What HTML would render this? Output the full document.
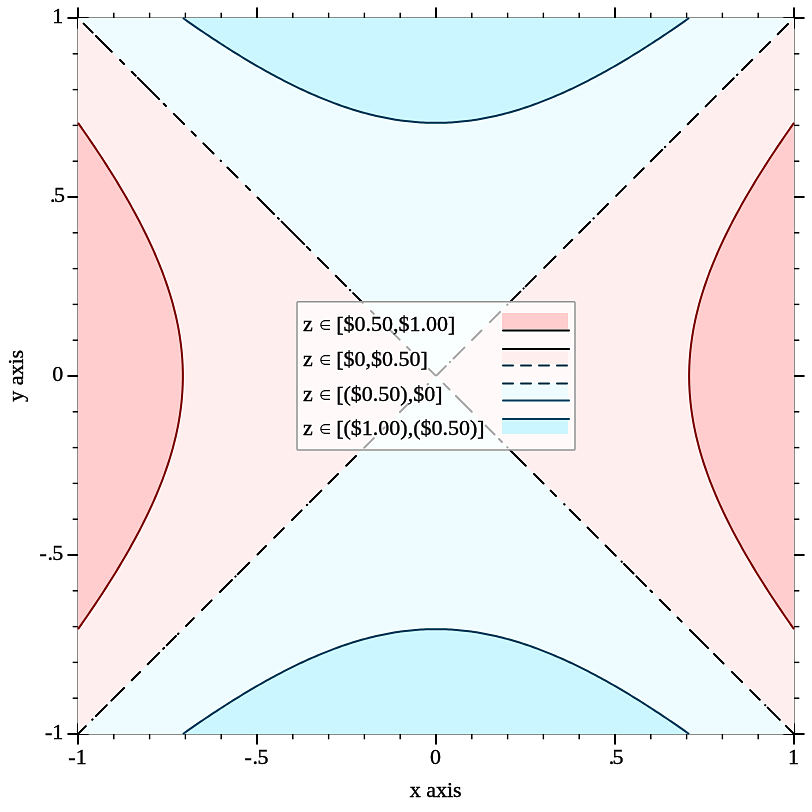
<!DOCTYPE html>
<html><head><meta charset="utf-8"><style>
html,body{margin:0;padding:0;background:#fff;width:812px;height:812px;overflow:hidden}
svg{display:block;will-change:transform}
text{font-family:"Liberation Serif",serif;font-size:22px;stroke:#000;stroke-width:0.35px;paint-order:stroke}
</style></head><body>
<svg width="812" height="812" viewBox="0 0 812 812">
<defs><filter id="sh" x="0" y="0" width="812" height="812" filterUnits="userSpaceOnUse" color-interpolation-filters="sRGB"><feGaussianBlur in="SourceGraphic" stdDeviation="1" result="b"/><feComposite in="SourceGraphic" in2="b" operator="arithmetic" k1="0" k2="1.3" k3="-0.3" k4="0"/></filter></defs>
<g filter="url(#sh)">
<rect width="812" height="812" fill="#fff"/>
<g stroke="#999999" stroke-width="1" fill="none">
<line x1="77.5" y1="17" x2="77.5" y2="735"/>
<line x1="794.5" y1="17" x2="794.5" y2="735"/>
<line x1="77" y1="17.5" x2="795" y2="17.5"/>
<line x1="77" y1="734.5" x2="795" y2="734.5"/>
</g>
<g stroke="#000"><line x1="78" y1="7.5" x2="78" y2="28.5" stroke-width="2"/><line x1="78" y1="723.5" x2="78" y2="744.5" stroke-width="2"/><line x1="67.5" y1="734" x2="88.5" y2="734" stroke-width="2"/><line x1="783.5" y1="734" x2="804.5" y2="734" stroke-width="2"/><line x1="113.8" y1="12.7" x2="113.8" y2="23.3" stroke-width="1.4"/><line x1="113.8" y1="728.7" x2="113.8" y2="739.3" stroke-width="1.4"/><line x1="72.7" y1="698.2" x2="83.3" y2="698.2" stroke-width="1.4"/><line x1="788.7" y1="698.2" x2="799.3" y2="698.2" stroke-width="1.4"/><line x1="149.6" y1="12.7" x2="149.6" y2="23.3" stroke-width="1.4"/><line x1="149.6" y1="728.7" x2="149.6" y2="739.3" stroke-width="1.4"/><line x1="72.7" y1="662.4" x2="83.3" y2="662.4" stroke-width="1.4"/><line x1="788.7" y1="662.4" x2="799.3" y2="662.4" stroke-width="1.4"/><line x1="185.4" y1="12.7" x2="185.4" y2="23.3" stroke-width="1.4"/><line x1="185.4" y1="728.7" x2="185.4" y2="739.3" stroke-width="1.4"/><line x1="72.7" y1="626.6" x2="83.3" y2="626.6" stroke-width="1.4"/><line x1="788.7" y1="626.6" x2="799.3" y2="626.6" stroke-width="1.4"/><line x1="221.2" y1="12.7" x2="221.2" y2="23.3" stroke-width="1.4"/><line x1="221.2" y1="728.7" x2="221.2" y2="739.3" stroke-width="1.4"/><line x1="72.7" y1="590.8" x2="83.3" y2="590.8" stroke-width="1.4"/><line x1="788.7" y1="590.8" x2="799.3" y2="590.8" stroke-width="1.4"/><line x1="257" y1="7.5" x2="257" y2="28.5" stroke-width="2"/><line x1="257" y1="723.5" x2="257" y2="744.5" stroke-width="2"/><line x1="67.5" y1="555" x2="88.5" y2="555" stroke-width="2"/><line x1="783.5" y1="555" x2="804.5" y2="555" stroke-width="2"/><line x1="292.8" y1="12.7" x2="292.8" y2="23.3" stroke-width="1.4"/><line x1="292.8" y1="728.7" x2="292.8" y2="739.3" stroke-width="1.4"/><line x1="72.7" y1="519.2" x2="83.3" y2="519.2" stroke-width="1.4"/><line x1="788.7" y1="519.2" x2="799.3" y2="519.2" stroke-width="1.4"/><line x1="328.6" y1="12.7" x2="328.6" y2="23.3" stroke-width="1.4"/><line x1="328.6" y1="728.7" x2="328.6" y2="739.3" stroke-width="1.4"/><line x1="72.7" y1="483.4" x2="83.3" y2="483.4" stroke-width="1.4"/><line x1="788.7" y1="483.4" x2="799.3" y2="483.4" stroke-width="1.4"/><line x1="364.4" y1="12.7" x2="364.4" y2="23.3" stroke-width="1.4"/><line x1="364.4" y1="728.7" x2="364.4" y2="739.3" stroke-width="1.4"/><line x1="72.7" y1="447.6" x2="83.3" y2="447.6" stroke-width="1.4"/><line x1="788.7" y1="447.6" x2="799.3" y2="447.6" stroke-width="1.4"/><line x1="400.2" y1="12.7" x2="400.2" y2="23.3" stroke-width="1.4"/><line x1="400.2" y1="728.7" x2="400.2" y2="739.3" stroke-width="1.4"/><line x1="72.7" y1="411.8" x2="83.3" y2="411.8" stroke-width="1.4"/><line x1="788.7" y1="411.8" x2="799.3" y2="411.8" stroke-width="1.4"/><line x1="436" y1="7.5" x2="436" y2="28.5" stroke-width="2"/><line x1="436" y1="723.5" x2="436" y2="744.5" stroke-width="2"/><line x1="67.5" y1="376" x2="88.5" y2="376" stroke-width="2"/><line x1="783.5" y1="376" x2="804.5" y2="376" stroke-width="2"/><line x1="471.8" y1="12.7" x2="471.8" y2="23.3" stroke-width="1.4"/><line x1="471.8" y1="728.7" x2="471.8" y2="739.3" stroke-width="1.4"/><line x1="72.7" y1="340.2" x2="83.3" y2="340.2" stroke-width="1.4"/><line x1="788.7" y1="340.2" x2="799.3" y2="340.2" stroke-width="1.4"/><line x1="507.6" y1="12.7" x2="507.6" y2="23.3" stroke-width="1.4"/><line x1="507.6" y1="728.7" x2="507.6" y2="739.3" stroke-width="1.4"/><line x1="72.7" y1="304.4" x2="83.3" y2="304.4" stroke-width="1.4"/><line x1="788.7" y1="304.4" x2="799.3" y2="304.4" stroke-width="1.4"/><line x1="543.4" y1="12.7" x2="543.4" y2="23.3" stroke-width="1.4"/><line x1="543.4" y1="728.7" x2="543.4" y2="739.3" stroke-width="1.4"/><line x1="72.7" y1="268.6" x2="83.3" y2="268.6" stroke-width="1.4"/><line x1="788.7" y1="268.6" x2="799.3" y2="268.6" stroke-width="1.4"/><line x1="579.2" y1="12.7" x2="579.2" y2="23.3" stroke-width="1.4"/><line x1="579.2" y1="728.7" x2="579.2" y2="739.3" stroke-width="1.4"/><line x1="72.7" y1="232.8" x2="83.3" y2="232.8" stroke-width="1.4"/><line x1="788.7" y1="232.8" x2="799.3" y2="232.8" stroke-width="1.4"/><line x1="615" y1="7.5" x2="615" y2="28.5" stroke-width="2"/><line x1="615" y1="723.5" x2="615" y2="744.5" stroke-width="2"/><line x1="67.5" y1="197" x2="88.5" y2="197" stroke-width="2"/><line x1="783.5" y1="197" x2="804.5" y2="197" stroke-width="2"/><line x1="650.8" y1="12.7" x2="650.8" y2="23.3" stroke-width="1.4"/><line x1="650.8" y1="728.7" x2="650.8" y2="739.3" stroke-width="1.4"/><line x1="72.7" y1="161.2" x2="83.3" y2="161.2" stroke-width="1.4"/><line x1="788.7" y1="161.2" x2="799.3" y2="161.2" stroke-width="1.4"/><line x1="686.6" y1="12.7" x2="686.6" y2="23.3" stroke-width="1.4"/><line x1="686.6" y1="728.7" x2="686.6" y2="739.3" stroke-width="1.4"/><line x1="72.7" y1="125.4" x2="83.3" y2="125.4" stroke-width="1.4"/><line x1="788.7" y1="125.4" x2="799.3" y2="125.4" stroke-width="1.4"/><line x1="722.4" y1="12.7" x2="722.4" y2="23.3" stroke-width="1.4"/><line x1="722.4" y1="728.7" x2="722.4" y2="739.3" stroke-width="1.4"/><line x1="72.7" y1="89.6" x2="83.3" y2="89.6" stroke-width="1.4"/><line x1="788.7" y1="89.6" x2="799.3" y2="89.6" stroke-width="1.4"/><line x1="758.2" y1="12.7" x2="758.2" y2="23.3" stroke-width="1.4"/><line x1="758.2" y1="728.7" x2="758.2" y2="739.3" stroke-width="1.4"/><line x1="72.7" y1="53.8" x2="83.3" y2="53.8" stroke-width="1.4"/><line x1="788.7" y1="53.8" x2="799.3" y2="53.8" stroke-width="1.4"/><line x1="794" y1="7.5" x2="794" y2="28.5" stroke-width="2"/><line x1="794" y1="723.5" x2="794" y2="744.5" stroke-width="2"/><line x1="67.5" y1="18" x2="88.5" y2="18" stroke-width="2"/><line x1="783.5" y1="18" x2="804.5" y2="18" stroke-width="2"/></g>
<g shape-rendering="auto">
<path d="M794,629.14 L792.21,626.61 L790.44,624.08 L788.67,621.55 L786.91,619.02 L785.16,616.49 L783.43,613.96 L781.7,611.42 L779.98,608.89 L778.27,606.36 L776.57,603.83 L774.88,601.3 L773.2,598.77 L771.54,596.24 L769.88,593.7 L768.24,591.17 L766.6,588.64 L764.98,586.11 L763.37,583.58 L761.77,581.05 L760.18,578.52 L758.61,575.98 L757.04,573.45 L755.49,570.92 L753.96,568.39 L752.43,565.86 L750.92,563.33 L749.42,560.8 L747.93,558.26 L746.46,555.73 L745,553.2 L743.56,550.67 L742.13,548.14 L740.71,545.61 L739.31,543.08 L737.92,540.54 L736.55,538.01 L735.19,535.48 L733.85,532.95 L732.52,530.42 L731.21,527.89 L729.92,525.36 L728.64,522.82 L727.38,520.29 L726.13,517.76 L724.91,515.23 L723.69,512.7 L722.5,510.17 L721.32,507.63 L720.16,505.1 L719.02,502.57 L717.9,500.04 L716.8,497.51 L715.71,494.98 L714.64,492.45 L713.59,489.91 L712.57,487.38 L711.56,484.85 L710.57,482.32 L709.59,479.79 L708.64,477.26 L707.71,474.73 L706.81,472.19 L705.92,469.66 L705.05,467.13 L704.2,464.6 L703.38,462.07 L702.57,459.54 L701.79,457.01 L701.03,454.47 L700.29,451.94 L699.57,449.41 L698.88,446.88 L698.21,444.35 L697.56,441.82 L696.94,439.29 L696.33,436.75 L695.75,434.22 L695.2,431.69 L694.67,429.16 L694.16,426.63 L693.67,424.1 L693.21,421.57 L692.78,419.03 L692.36,416.5 L691.98,413.97 L691.61,411.44 L691.27,408.91 L690.96,406.38 L690.67,403.85 L690.41,401.31 L690.17,398.78 L689.95,396.25 L689.76,393.72 L689.6,391.19 L689.46,388.66 L689.35,386.13 L689.26,383.59 L689.19,381.06 L689.16,378.53 L689.14,376 L689.16,373.47 L689.19,370.94 L689.26,368.41 L689.35,365.87 L689.46,363.34 L689.6,360.81 L689.76,358.28 L689.95,355.75 L690.17,353.22 L690.41,350.69 L690.67,348.15 L690.96,345.62 L691.27,343.09 L691.61,340.56 L691.98,338.03 L692.36,335.5 L692.78,332.97 L693.21,330.43 L693.67,327.9 L694.16,325.37 L694.67,322.84 L695.2,320.31 L695.75,317.78 L696.33,315.25 L696.94,312.71 L697.56,310.18 L698.21,307.65 L698.88,305.12 L699.57,302.59 L700.29,300.06 L701.03,297.53 L701.79,294.99 L702.57,292.46 L703.38,289.93 L704.2,287.4 L705.05,284.87 L705.92,282.34 L706.81,279.81 L707.71,277.27 L708.64,274.74 L709.59,272.21 L710.57,269.68 L711.56,267.15 L712.57,264.62 L713.59,262.09 L714.64,259.55 L715.71,257.02 L716.8,254.49 L717.9,251.96 L719.02,249.43 L720.16,246.9 L721.32,244.37 L722.5,241.83 L723.69,239.3 L724.91,236.77 L726.13,234.24 L727.38,231.71 L728.64,229.18 L729.92,226.64 L731.21,224.11 L732.52,221.58 L733.85,219.05 L735.19,216.52 L736.55,213.99 L737.92,211.46 L739.31,208.92 L740.71,206.39 L742.13,203.86 L743.56,201.33 L745,198.8 L746.46,196.27 L747.93,193.74 L749.42,191.2 L750.92,188.67 L752.43,186.14 L753.96,183.61 L755.49,181.08 L757.04,178.55 L758.61,176.02 L760.18,173.48 L761.77,170.95 L763.37,168.42 L764.98,165.89 L766.6,163.36 L768.24,160.83 L769.88,158.3 L771.54,155.76 L773.2,153.23 L774.88,150.7 L776.57,148.17 L778.27,145.64 L779.98,143.11 L781.7,140.58 L783.43,138.04 L785.16,135.51 L786.91,132.98 L788.67,130.45 L790.44,127.92 L792.21,125.39 L794,122.86 L794,122.86 L794,629.14Z" fill="#ffcdcd"/>
<path d="M78,629.14 L79.79,626.61 L81.56,624.08 L83.33,621.55 L85.09,619.02 L86.84,616.49 L88.57,613.96 L90.3,611.42 L92.02,608.89 L93.73,606.36 L95.43,603.83 L97.12,601.3 L98.8,598.77 L100.46,596.24 L102.12,593.7 L103.76,591.17 L105.4,588.64 L107.02,586.11 L108.63,583.58 L110.23,581.05 L111.82,578.52 L113.39,575.98 L114.96,573.45 L116.51,570.92 L118.04,568.39 L119.57,565.86 L121.08,563.33 L122.58,560.8 L124.07,558.26 L125.54,555.73 L127,553.2 L128.44,550.67 L129.87,548.14 L131.29,545.61 L132.69,543.08 L134.08,540.54 L135.45,538.01 L136.81,535.48 L138.15,532.95 L139.48,530.42 L140.79,527.89 L142.08,525.36 L143.36,522.82 L144.62,520.29 L145.87,517.76 L147.09,515.23 L148.31,512.7 L149.5,510.17 L150.68,507.63 L151.84,505.1 L152.98,502.57 L154.1,500.04 L155.2,497.51 L156.29,494.98 L157.36,492.45 L158.41,489.91 L159.43,487.38 L160.44,484.85 L161.43,482.32 L162.41,479.79 L163.36,477.26 L164.29,474.73 L165.19,472.19 L166.08,469.66 L166.95,467.13 L167.8,464.6 L168.62,462.07 L169.43,459.54 L170.21,457.01 L170.97,454.47 L171.71,451.94 L172.43,449.41 L173.12,446.88 L173.79,444.35 L174.44,441.82 L175.06,439.29 L175.67,436.75 L176.25,434.22 L176.8,431.69 L177.33,429.16 L177.84,426.63 L178.33,424.1 L178.79,421.57 L179.22,419.03 L179.64,416.5 L180.02,413.97 L180.39,411.44 L180.73,408.91 L181.04,406.38 L181.33,403.85 L181.59,401.31 L181.83,398.78 L182.05,396.25 L182.24,393.72 L182.4,391.19 L182.54,388.66 L182.65,386.13 L182.74,383.59 L182.81,381.06 L182.84,378.53 L182.86,376 L182.84,373.47 L182.81,370.94 L182.74,368.41 L182.65,365.87 L182.54,363.34 L182.4,360.81 L182.24,358.28 L182.05,355.75 L181.83,353.22 L181.59,350.69 L181.33,348.15 L181.04,345.62 L180.73,343.09 L180.39,340.56 L180.02,338.03 L179.64,335.5 L179.22,332.97 L178.79,330.43 L178.33,327.9 L177.84,325.37 L177.33,322.84 L176.8,320.31 L176.25,317.78 L175.67,315.25 L175.06,312.71 L174.44,310.18 L173.79,307.65 L173.12,305.12 L172.43,302.59 L171.71,300.06 L170.97,297.53 L170.21,294.99 L169.43,292.46 L168.62,289.93 L167.8,287.4 L166.95,284.87 L166.08,282.34 L165.19,279.81 L164.29,277.27 L163.36,274.74 L162.41,272.21 L161.43,269.68 L160.44,267.15 L159.43,264.62 L158.41,262.09 L157.36,259.55 L156.29,257.02 L155.2,254.49 L154.1,251.96 L152.98,249.43 L151.84,246.9 L150.68,244.37 L149.5,241.83 L148.31,239.3 L147.09,236.77 L145.87,234.24 L144.62,231.71 L143.36,229.18 L142.08,226.64 L140.79,224.11 L139.48,221.58 L138.15,219.05 L136.81,216.52 L135.45,213.99 L134.08,211.46 L132.69,208.92 L131.29,206.39 L129.87,203.86 L128.44,201.33 L127,198.8 L125.54,196.27 L124.07,193.74 L122.58,191.2 L121.08,188.67 L119.57,186.14 L118.04,183.61 L116.51,181.08 L114.96,178.55 L113.39,176.02 L111.82,173.48 L110.23,170.95 L108.63,168.42 L107.02,165.89 L105.4,163.36 L103.76,160.83 L102.12,158.3 L100.46,155.76 L98.8,153.23 L97.12,150.7 L95.43,148.17 L93.73,145.64 L92.02,143.11 L90.3,140.58 L88.57,138.04 L86.84,135.51 L85.09,132.98 L83.33,130.45 L81.56,127.92 L79.79,125.39 L78,122.86 L78,122.86 L78,629.14Z" fill="#ffcdcd"/>
<path d="M182.86,18 L185.39,19.79 L187.92,21.56 L190.45,23.33 L192.98,25.09 L195.51,26.84 L198.04,28.57 L200.58,30.3 L203.11,32.02 L205.64,33.73 L208.17,35.43 L210.7,37.12 L213.23,38.8 L215.76,40.46 L218.3,42.12 L220.83,43.76 L223.36,45.4 L225.89,47.02 L228.42,48.63 L230.95,50.23 L233.48,51.82 L236.02,53.39 L238.55,54.96 L241.08,56.51 L243.61,58.04 L246.14,59.57 L248.67,61.08 L251.2,62.58 L253.74,64.07 L256.27,65.54 L258.8,67 L261.33,68.44 L263.86,69.87 L266.39,71.29 L268.92,72.69 L271.46,74.08 L273.99,75.45 L276.52,76.81 L279.05,78.15 L281.58,79.48 L284.11,80.79 L286.64,82.08 L289.18,83.36 L291.71,84.62 L294.24,85.87 L296.77,87.09 L299.3,88.31 L301.83,89.5 L304.37,90.68 L306.9,91.84 L309.43,92.98 L311.96,94.1 L314.49,95.2 L317.02,96.29 L319.55,97.36 L322.09,98.41 L324.62,99.43 L327.15,100.44 L329.68,101.43 L332.21,102.41 L334.74,103.36 L337.27,104.29 L339.81,105.19 L342.34,106.08 L344.87,106.95 L347.4,107.8 L349.93,108.62 L352.46,109.43 L354.99,110.21 L357.53,110.97 L360.06,111.71 L362.59,112.43 L365.12,113.12 L367.65,113.79 L370.18,114.44 L372.71,115.06 L375.25,115.67 L377.78,116.25 L380.31,116.8 L382.84,117.33 L385.37,117.84 L387.9,118.33 L390.43,118.79 L392.97,119.22 L395.5,119.64 L398.03,120.02 L400.56,120.39 L403.09,120.73 L405.62,121.04 L408.15,121.33 L410.69,121.59 L413.22,121.83 L415.75,122.05 L418.28,122.24 L420.81,122.4 L423.34,122.54 L425.87,122.65 L428.41,122.74 L430.94,122.81 L433.47,122.84 L436,122.86 L438.53,122.84 L441.06,122.81 L443.59,122.74 L446.13,122.65 L448.66,122.54 L451.19,122.4 L453.72,122.24 L456.25,122.05 L458.78,121.83 L461.31,121.59 L463.85,121.33 L466.38,121.04 L468.91,120.73 L471.44,120.39 L473.97,120.02 L476.5,119.64 L479.03,119.22 L481.57,118.79 L484.1,118.33 L486.63,117.84 L489.16,117.33 L491.69,116.8 L494.22,116.25 L496.75,115.67 L499.29,115.06 L501.82,114.44 L504.35,113.79 L506.88,113.12 L509.41,112.43 L511.94,111.71 L514.47,110.97 L517.01,110.21 L519.54,109.43 L522.07,108.62 L524.6,107.8 L527.13,106.95 L529.66,106.08 L532.19,105.19 L534.73,104.29 L537.26,103.36 L539.79,102.41 L542.32,101.43 L544.85,100.44 L547.38,99.43 L549.91,98.41 L552.45,97.36 L554.98,96.29 L557.51,95.2 L560.04,94.1 L562.57,92.98 L565.1,91.84 L567.63,90.68 L570.17,89.5 L572.7,88.31 L575.23,87.09 L577.76,85.87 L580.29,84.62 L582.82,83.36 L585.36,82.08 L587.89,80.79 L590.42,79.48 L592.95,78.15 L595.48,76.81 L598.01,75.45 L600.54,74.08 L603.08,72.69 L605.61,71.29 L608.14,69.87 L610.67,68.44 L613.2,67 L615.73,65.54 L618.26,64.07 L620.8,62.58 L623.33,61.08 L625.86,59.57 L628.39,58.04 L630.92,56.51 L633.45,54.96 L635.98,53.39 L638.52,51.82 L641.05,50.23 L643.58,48.63 L646.11,47.02 L648.64,45.4 L651.17,43.76 L653.7,42.12 L656.24,40.46 L658.77,38.8 L661.3,37.12 L663.83,35.43 L666.36,33.73 L668.89,32.02 L671.42,30.3 L673.96,28.57 L676.49,26.84 L679.02,25.09 L681.55,23.33 L684.08,21.56 L686.61,19.79 L689.14,18 L689.14,18 L182.86,18Z" fill="#ccf6ff"/>
<path d="M182.86,734 L185.39,732.21 L187.92,730.44 L190.45,728.67 L192.98,726.91 L195.51,725.16 L198.04,723.43 L200.58,721.7 L203.11,719.98 L205.64,718.27 L208.17,716.57 L210.7,714.88 L213.23,713.2 L215.76,711.54 L218.3,709.88 L220.83,708.24 L223.36,706.6 L225.89,704.98 L228.42,703.37 L230.95,701.77 L233.48,700.18 L236.02,698.61 L238.55,697.04 L241.08,695.49 L243.61,693.96 L246.14,692.43 L248.67,690.92 L251.2,689.42 L253.74,687.93 L256.27,686.46 L258.8,685 L261.33,683.56 L263.86,682.13 L266.39,680.71 L268.92,679.31 L271.46,677.92 L273.99,676.55 L276.52,675.19 L279.05,673.85 L281.58,672.52 L284.11,671.21 L286.64,669.92 L289.18,668.64 L291.71,667.38 L294.24,666.13 L296.77,664.91 L299.3,663.69 L301.83,662.5 L304.37,661.32 L306.9,660.16 L309.43,659.02 L311.96,657.9 L314.49,656.8 L317.02,655.71 L319.55,654.64 L322.09,653.59 L324.62,652.57 L327.15,651.56 L329.68,650.57 L332.21,649.59 L334.74,648.64 L337.27,647.71 L339.81,646.81 L342.34,645.92 L344.87,645.05 L347.4,644.2 L349.93,643.38 L352.46,642.57 L354.99,641.79 L357.53,641.03 L360.06,640.29 L362.59,639.57 L365.12,638.88 L367.65,638.21 L370.18,637.56 L372.71,636.94 L375.25,636.33 L377.78,635.75 L380.31,635.2 L382.84,634.67 L385.37,634.16 L387.9,633.67 L390.43,633.21 L392.97,632.78 L395.5,632.36 L398.03,631.98 L400.56,631.61 L403.09,631.27 L405.62,630.96 L408.15,630.67 L410.69,630.41 L413.22,630.17 L415.75,629.95 L418.28,629.76 L420.81,629.6 L423.34,629.46 L425.87,629.35 L428.41,629.26 L430.94,629.19 L433.47,629.16 L436,629.14 L438.53,629.16 L441.06,629.19 L443.59,629.26 L446.13,629.35 L448.66,629.46 L451.19,629.6 L453.72,629.76 L456.25,629.95 L458.78,630.17 L461.31,630.41 L463.85,630.67 L466.38,630.96 L468.91,631.27 L471.44,631.61 L473.97,631.98 L476.5,632.36 L479.03,632.78 L481.57,633.21 L484.1,633.67 L486.63,634.16 L489.16,634.67 L491.69,635.2 L494.22,635.75 L496.75,636.33 L499.29,636.94 L501.82,637.56 L504.35,638.21 L506.88,638.88 L509.41,639.57 L511.94,640.29 L514.47,641.03 L517.01,641.79 L519.54,642.57 L522.07,643.38 L524.6,644.2 L527.13,645.05 L529.66,645.92 L532.19,646.81 L534.73,647.71 L537.26,648.64 L539.79,649.59 L542.32,650.57 L544.85,651.56 L547.38,652.57 L549.91,653.59 L552.45,654.64 L554.98,655.71 L557.51,656.8 L560.04,657.9 L562.57,659.02 L565.1,660.16 L567.63,661.32 L570.17,662.5 L572.7,663.69 L575.23,664.91 L577.76,666.13 L580.29,667.38 L582.82,668.64 L585.36,669.92 L587.89,671.21 L590.42,672.52 L592.95,673.85 L595.48,675.19 L598.01,676.55 L600.54,677.92 L603.08,679.31 L605.61,680.71 L608.14,682.13 L610.67,683.56 L613.2,685 L615.73,686.46 L618.26,687.93 L620.8,689.42 L623.33,690.92 L625.86,692.43 L628.39,693.96 L630.92,695.49 L633.45,697.04 L635.98,698.61 L638.52,700.18 L641.05,701.77 L643.58,703.37 L646.11,704.98 L648.64,706.6 L651.17,708.24 L653.7,709.88 L656.24,711.54 L658.77,713.2 L661.3,714.88 L663.83,716.57 L666.36,718.27 L668.89,719.98 L671.42,721.7 L673.96,723.43 L676.49,725.16 L679.02,726.91 L681.55,728.67 L684.08,730.44 L686.61,732.21 L689.14,734 L689.14,734 L182.86,734Z" fill="#ccf6ff"/>
<path d="M436,376 L794,18 L794,122.86 L794,122.86 L792.21,125.39 L790.44,127.92 L788.67,130.45 L786.91,132.98 L785.16,135.51 L783.43,138.04 L781.7,140.58 L779.98,143.11 L778.27,145.64 L776.57,148.17 L774.88,150.7 L773.2,153.23 L771.54,155.76 L769.88,158.3 L768.24,160.83 L766.6,163.36 L764.98,165.89 L763.37,168.42 L761.77,170.95 L760.18,173.48 L758.61,176.02 L757.04,178.55 L755.49,181.08 L753.96,183.61 L752.43,186.14 L750.92,188.67 L749.42,191.2 L747.93,193.74 L746.46,196.27 L745,198.8 L743.56,201.33 L742.13,203.86 L740.71,206.39 L739.31,208.92 L737.92,211.46 L736.55,213.99 L735.19,216.52 L733.85,219.05 L732.52,221.58 L731.21,224.11 L729.92,226.64 L728.64,229.18 L727.38,231.71 L726.13,234.24 L724.91,236.77 L723.69,239.3 L722.5,241.83 L721.32,244.37 L720.16,246.9 L719.02,249.43 L717.9,251.96 L716.8,254.49 L715.71,257.02 L714.64,259.55 L713.59,262.09 L712.57,264.62 L711.56,267.15 L710.57,269.68 L709.59,272.21 L708.64,274.74 L707.71,277.27 L706.81,279.81 L705.92,282.34 L705.05,284.87 L704.2,287.4 L703.38,289.93 L702.57,292.46 L701.79,294.99 L701.03,297.53 L700.29,300.06 L699.57,302.59 L698.88,305.12 L698.21,307.65 L697.56,310.18 L696.94,312.71 L696.33,315.25 L695.75,317.78 L695.2,320.31 L694.67,322.84 L694.16,325.37 L693.67,327.9 L693.21,330.43 L692.78,332.97 L692.36,335.5 L691.98,338.03 L691.61,340.56 L691.27,343.09 L690.96,345.62 L690.67,348.15 L690.41,350.69 L690.17,353.22 L689.95,355.75 L689.76,358.28 L689.6,360.81 L689.46,363.34 L689.35,365.87 L689.26,368.41 L689.19,370.94 L689.16,373.47 L689.14,376 L689.16,378.53 L689.19,381.06 L689.26,383.59 L689.35,386.13 L689.46,388.66 L689.6,391.19 L689.76,393.72 L689.95,396.25 L690.17,398.78 L690.41,401.31 L690.67,403.85 L690.96,406.38 L691.27,408.91 L691.61,411.44 L691.98,413.97 L692.36,416.5 L692.78,419.03 L693.21,421.57 L693.67,424.1 L694.16,426.63 L694.67,429.16 L695.2,431.69 L695.75,434.22 L696.33,436.75 L696.94,439.29 L697.56,441.82 L698.21,444.35 L698.88,446.88 L699.57,449.41 L700.29,451.94 L701.03,454.47 L701.79,457.01 L702.57,459.54 L703.38,462.07 L704.2,464.6 L705.05,467.13 L705.92,469.66 L706.81,472.19 L707.71,474.73 L708.64,477.26 L709.59,479.79 L710.57,482.32 L711.56,484.85 L712.57,487.38 L713.59,489.91 L714.64,492.45 L715.71,494.98 L716.8,497.51 L717.9,500.04 L719.02,502.57 L720.16,505.1 L721.32,507.63 L722.5,510.17 L723.69,512.7 L724.91,515.23 L726.13,517.76 L727.38,520.29 L728.64,522.82 L729.92,525.36 L731.21,527.89 L732.52,530.42 L733.85,532.95 L735.19,535.48 L736.55,538.01 L737.92,540.54 L739.31,543.08 L740.71,545.61 L742.13,548.14 L743.56,550.67 L745,553.2 L746.46,555.73 L747.93,558.26 L749.42,560.8 L750.92,563.33 L752.43,565.86 L753.96,568.39 L755.49,570.92 L757.04,573.45 L758.61,575.98 L760.18,578.52 L761.77,581.05 L763.37,583.58 L764.98,586.11 L766.6,588.64 L768.24,591.17 L769.88,593.7 L771.54,596.24 L773.2,598.77 L774.88,601.3 L776.57,603.83 L778.27,606.36 L779.98,608.89 L781.7,611.42 L783.43,613.96 L785.16,616.49 L786.91,619.02 L788.67,621.55 L790.44,624.08 L792.21,626.61 L794,629.14 L794,629.14 L794,734Z" fill="#ffeeee"/>
<path d="M436,376 L78,18 L78,122.86 L78,122.86 L79.79,125.39 L81.56,127.92 L83.33,130.45 L85.09,132.98 L86.84,135.51 L88.57,138.04 L90.3,140.58 L92.02,143.11 L93.73,145.64 L95.43,148.17 L97.12,150.7 L98.8,153.23 L100.46,155.76 L102.12,158.3 L103.76,160.83 L105.4,163.36 L107.02,165.89 L108.63,168.42 L110.23,170.95 L111.82,173.48 L113.39,176.02 L114.96,178.55 L116.51,181.08 L118.04,183.61 L119.57,186.14 L121.08,188.67 L122.58,191.2 L124.07,193.74 L125.54,196.27 L127,198.8 L128.44,201.33 L129.87,203.86 L131.29,206.39 L132.69,208.92 L134.08,211.46 L135.45,213.99 L136.81,216.52 L138.15,219.05 L139.48,221.58 L140.79,224.11 L142.08,226.64 L143.36,229.18 L144.62,231.71 L145.87,234.24 L147.09,236.77 L148.31,239.3 L149.5,241.83 L150.68,244.37 L151.84,246.9 L152.98,249.43 L154.1,251.96 L155.2,254.49 L156.29,257.02 L157.36,259.55 L158.41,262.09 L159.43,264.62 L160.44,267.15 L161.43,269.68 L162.41,272.21 L163.36,274.74 L164.29,277.27 L165.19,279.81 L166.08,282.34 L166.95,284.87 L167.8,287.4 L168.62,289.93 L169.43,292.46 L170.21,294.99 L170.97,297.53 L171.71,300.06 L172.43,302.59 L173.12,305.12 L173.79,307.65 L174.44,310.18 L175.06,312.71 L175.67,315.25 L176.25,317.78 L176.8,320.31 L177.33,322.84 L177.84,325.37 L178.33,327.9 L178.79,330.43 L179.22,332.97 L179.64,335.5 L180.02,338.03 L180.39,340.56 L180.73,343.09 L181.04,345.62 L181.33,348.15 L181.59,350.69 L181.83,353.22 L182.05,355.75 L182.24,358.28 L182.4,360.81 L182.54,363.34 L182.65,365.87 L182.74,368.41 L182.81,370.94 L182.84,373.47 L182.86,376 L182.84,378.53 L182.81,381.06 L182.74,383.59 L182.65,386.13 L182.54,388.66 L182.4,391.19 L182.24,393.72 L182.05,396.25 L181.83,398.78 L181.59,401.31 L181.33,403.85 L181.04,406.38 L180.73,408.91 L180.39,411.44 L180.02,413.97 L179.64,416.5 L179.22,419.03 L178.79,421.57 L178.33,424.1 L177.84,426.63 L177.33,429.16 L176.8,431.69 L176.25,434.22 L175.67,436.75 L175.06,439.29 L174.44,441.82 L173.79,444.35 L173.12,446.88 L172.43,449.41 L171.71,451.94 L170.97,454.47 L170.21,457.01 L169.43,459.54 L168.62,462.07 L167.8,464.6 L166.95,467.13 L166.08,469.66 L165.19,472.19 L164.29,474.73 L163.36,477.26 L162.41,479.79 L161.43,482.32 L160.44,484.85 L159.43,487.38 L158.41,489.91 L157.36,492.45 L156.29,494.98 L155.2,497.51 L154.1,500.04 L152.98,502.57 L151.84,505.1 L150.68,507.63 L149.5,510.17 L148.31,512.7 L147.09,515.23 L145.87,517.76 L144.62,520.29 L143.36,522.82 L142.08,525.36 L140.79,527.89 L139.48,530.42 L138.15,532.95 L136.81,535.48 L135.45,538.01 L134.08,540.54 L132.69,543.08 L131.29,545.61 L129.87,548.14 L128.44,550.67 L127,553.2 L125.54,555.73 L124.07,558.26 L122.58,560.8 L121.08,563.33 L119.57,565.86 L118.04,568.39 L116.51,570.92 L114.96,573.45 L113.39,575.98 L111.82,578.52 L110.23,581.05 L108.63,583.58 L107.02,586.11 L105.4,588.64 L103.76,591.17 L102.12,593.7 L100.46,596.24 L98.8,598.77 L97.12,601.3 L95.43,603.83 L93.73,606.36 L92.02,608.89 L90.3,611.42 L88.57,613.96 L86.84,616.49 L85.09,619.02 L83.33,621.55 L81.56,624.08 L79.79,626.61 L78,629.14 L78,629.14 L78,734Z" fill="#ffeeee"/>
<path d="M436,376 L78,18 L182.86,18 L182.86,18 L185.39,19.79 L187.92,21.56 L190.45,23.33 L192.98,25.09 L195.51,26.84 L198.04,28.57 L200.58,30.3 L203.11,32.02 L205.64,33.73 L208.17,35.43 L210.7,37.12 L213.23,38.8 L215.76,40.46 L218.3,42.12 L220.83,43.76 L223.36,45.4 L225.89,47.02 L228.42,48.63 L230.95,50.23 L233.48,51.82 L236.02,53.39 L238.55,54.96 L241.08,56.51 L243.61,58.04 L246.14,59.57 L248.67,61.08 L251.2,62.58 L253.74,64.07 L256.27,65.54 L258.8,67 L261.33,68.44 L263.86,69.87 L266.39,71.29 L268.92,72.69 L271.46,74.08 L273.99,75.45 L276.52,76.81 L279.05,78.15 L281.58,79.48 L284.11,80.79 L286.64,82.08 L289.18,83.36 L291.71,84.62 L294.24,85.87 L296.77,87.09 L299.3,88.31 L301.83,89.5 L304.37,90.68 L306.9,91.84 L309.43,92.98 L311.96,94.1 L314.49,95.2 L317.02,96.29 L319.55,97.36 L322.09,98.41 L324.62,99.43 L327.15,100.44 L329.68,101.43 L332.21,102.41 L334.74,103.36 L337.27,104.29 L339.81,105.19 L342.34,106.08 L344.87,106.95 L347.4,107.8 L349.93,108.62 L352.46,109.43 L354.99,110.21 L357.53,110.97 L360.06,111.71 L362.59,112.43 L365.12,113.12 L367.65,113.79 L370.18,114.44 L372.71,115.06 L375.25,115.67 L377.78,116.25 L380.31,116.8 L382.84,117.33 L385.37,117.84 L387.9,118.33 L390.43,118.79 L392.97,119.22 L395.5,119.64 L398.03,120.02 L400.56,120.39 L403.09,120.73 L405.62,121.04 L408.15,121.33 L410.69,121.59 L413.22,121.83 L415.75,122.05 L418.28,122.24 L420.81,122.4 L423.34,122.54 L425.87,122.65 L428.41,122.74 L430.94,122.81 L433.47,122.84 L436,122.86 L438.53,122.84 L441.06,122.81 L443.59,122.74 L446.13,122.65 L448.66,122.54 L451.19,122.4 L453.72,122.24 L456.25,122.05 L458.78,121.83 L461.31,121.59 L463.85,121.33 L466.38,121.04 L468.91,120.73 L471.44,120.39 L473.97,120.02 L476.5,119.64 L479.03,119.22 L481.57,118.79 L484.1,118.33 L486.63,117.84 L489.16,117.33 L491.69,116.8 L494.22,116.25 L496.75,115.67 L499.29,115.06 L501.82,114.44 L504.35,113.79 L506.88,113.12 L509.41,112.43 L511.94,111.71 L514.47,110.97 L517.01,110.21 L519.54,109.43 L522.07,108.62 L524.6,107.8 L527.13,106.95 L529.66,106.08 L532.19,105.19 L534.73,104.29 L537.26,103.36 L539.79,102.41 L542.32,101.43 L544.85,100.44 L547.38,99.43 L549.91,98.41 L552.45,97.36 L554.98,96.29 L557.51,95.2 L560.04,94.1 L562.57,92.98 L565.1,91.84 L567.63,90.68 L570.17,89.5 L572.7,88.31 L575.23,87.09 L577.76,85.87 L580.29,84.62 L582.82,83.36 L585.36,82.08 L587.89,80.79 L590.42,79.48 L592.95,78.15 L595.48,76.81 L598.01,75.45 L600.54,74.08 L603.08,72.69 L605.61,71.29 L608.14,69.87 L610.67,68.44 L613.2,67 L615.73,65.54 L618.26,64.07 L620.8,62.58 L623.33,61.08 L625.86,59.57 L628.39,58.04 L630.92,56.51 L633.45,54.96 L635.98,53.39 L638.52,51.82 L641.05,50.23 L643.58,48.63 L646.11,47.02 L648.64,45.4 L651.17,43.76 L653.7,42.12 L656.24,40.46 L658.77,38.8 L661.3,37.12 L663.83,35.43 L666.36,33.73 L668.89,32.02 L671.42,30.3 L673.96,28.57 L676.49,26.84 L679.02,25.09 L681.55,23.33 L684.08,21.56 L686.61,19.79 L689.14,18 L689.14,18 L794,18Z" fill="#eefbff"/>
<path d="M436,376 L78,734 L182.86,734 L182.86,734 L185.39,732.21 L187.92,730.44 L190.45,728.67 L192.98,726.91 L195.51,725.16 L198.04,723.43 L200.58,721.7 L203.11,719.98 L205.64,718.27 L208.17,716.57 L210.7,714.88 L213.23,713.2 L215.76,711.54 L218.3,709.88 L220.83,708.24 L223.36,706.6 L225.89,704.98 L228.42,703.37 L230.95,701.77 L233.48,700.18 L236.02,698.61 L238.55,697.04 L241.08,695.49 L243.61,693.96 L246.14,692.43 L248.67,690.92 L251.2,689.42 L253.74,687.93 L256.27,686.46 L258.8,685 L261.33,683.56 L263.86,682.13 L266.39,680.71 L268.92,679.31 L271.46,677.92 L273.99,676.55 L276.52,675.19 L279.05,673.85 L281.58,672.52 L284.11,671.21 L286.64,669.92 L289.18,668.64 L291.71,667.38 L294.24,666.13 L296.77,664.91 L299.3,663.69 L301.83,662.5 L304.37,661.32 L306.9,660.16 L309.43,659.02 L311.96,657.9 L314.49,656.8 L317.02,655.71 L319.55,654.64 L322.09,653.59 L324.62,652.57 L327.15,651.56 L329.68,650.57 L332.21,649.59 L334.74,648.64 L337.27,647.71 L339.81,646.81 L342.34,645.92 L344.87,645.05 L347.4,644.2 L349.93,643.38 L352.46,642.57 L354.99,641.79 L357.53,641.03 L360.06,640.29 L362.59,639.57 L365.12,638.88 L367.65,638.21 L370.18,637.56 L372.71,636.94 L375.25,636.33 L377.78,635.75 L380.31,635.2 L382.84,634.67 L385.37,634.16 L387.9,633.67 L390.43,633.21 L392.97,632.78 L395.5,632.36 L398.03,631.98 L400.56,631.61 L403.09,631.27 L405.62,630.96 L408.15,630.67 L410.69,630.41 L413.22,630.17 L415.75,629.95 L418.28,629.76 L420.81,629.6 L423.34,629.46 L425.87,629.35 L428.41,629.26 L430.94,629.19 L433.47,629.16 L436,629.14 L438.53,629.16 L441.06,629.19 L443.59,629.26 L446.13,629.35 L448.66,629.46 L451.19,629.6 L453.72,629.76 L456.25,629.95 L458.78,630.17 L461.31,630.41 L463.85,630.67 L466.38,630.96 L468.91,631.27 L471.44,631.61 L473.97,631.98 L476.5,632.36 L479.03,632.78 L481.57,633.21 L484.1,633.67 L486.63,634.16 L489.16,634.67 L491.69,635.2 L494.22,635.75 L496.75,636.33 L499.29,636.94 L501.82,637.56 L504.35,638.21 L506.88,638.88 L509.41,639.57 L511.94,640.29 L514.47,641.03 L517.01,641.79 L519.54,642.57 L522.07,643.38 L524.6,644.2 L527.13,645.05 L529.66,645.92 L532.19,646.81 L534.73,647.71 L537.26,648.64 L539.79,649.59 L542.32,650.57 L544.85,651.56 L547.38,652.57 L549.91,653.59 L552.45,654.64 L554.98,655.71 L557.51,656.8 L560.04,657.9 L562.57,659.02 L565.1,660.16 L567.63,661.32 L570.17,662.5 L572.7,663.69 L575.23,664.91 L577.76,666.13 L580.29,667.38 L582.82,668.64 L585.36,669.92 L587.89,671.21 L590.42,672.52 L592.95,673.85 L595.48,675.19 L598.01,676.55 L600.54,677.92 L603.08,679.31 L605.61,680.71 L608.14,682.13 L610.67,683.56 L613.2,685 L615.73,686.46 L618.26,687.93 L620.8,689.42 L623.33,690.92 L625.86,692.43 L628.39,693.96 L630.92,695.49 L633.45,697.04 L635.98,698.61 L638.52,700.18 L641.05,701.77 L643.58,703.37 L646.11,704.98 L648.64,706.6 L651.17,708.24 L653.7,709.88 L656.24,711.54 L658.77,713.2 L661.3,714.88 L663.83,716.57 L666.36,718.27 L668.89,719.98 L671.42,721.7 L673.96,723.43 L676.49,725.16 L679.02,726.91 L681.55,728.67 L684.08,730.44 L686.61,732.21 L689.14,734 L689.14,734 L794,734Z" fill="#eefbff"/>
</g>
<g fill="none" stroke-width="2" stroke-linejoin="round">
<path d="M794,629.14 L792.21,626.61 L790.44,624.08 L788.67,621.55 L786.91,619.02 L785.16,616.49 L783.43,613.96 L781.7,611.42 L779.98,608.89 L778.27,606.36 L776.57,603.83 L774.88,601.3 L773.2,598.77 L771.54,596.24 L769.88,593.7 L768.24,591.17 L766.6,588.64 L764.98,586.11 L763.37,583.58 L761.77,581.05 L760.18,578.52 L758.61,575.98 L757.04,573.45 L755.49,570.92 L753.96,568.39 L752.43,565.86 L750.92,563.33 L749.42,560.8 L747.93,558.26 L746.46,555.73 L745,553.2 L743.56,550.67 L742.13,548.14 L740.71,545.61 L739.31,543.08 L737.92,540.54 L736.55,538.01 L735.19,535.48 L733.85,532.95 L732.52,530.42 L731.21,527.89 L729.92,525.36 L728.64,522.82 L727.38,520.29 L726.13,517.76 L724.91,515.23 L723.69,512.7 L722.5,510.17 L721.32,507.63 L720.16,505.1 L719.02,502.57 L717.9,500.04 L716.8,497.51 L715.71,494.98 L714.64,492.45 L713.59,489.91 L712.57,487.38 L711.56,484.85 L710.57,482.32 L709.59,479.79 L708.64,477.26 L707.71,474.73 L706.81,472.19 L705.92,469.66 L705.05,467.13 L704.2,464.6 L703.38,462.07 L702.57,459.54 L701.79,457.01 L701.03,454.47 L700.29,451.94 L699.57,449.41 L698.88,446.88 L698.21,444.35 L697.56,441.82 L696.94,439.29 L696.33,436.75 L695.75,434.22 L695.2,431.69 L694.67,429.16 L694.16,426.63 L693.67,424.1 L693.21,421.57 L692.78,419.03 L692.36,416.5 L691.98,413.97 L691.61,411.44 L691.27,408.91 L690.96,406.38 L690.67,403.85 L690.41,401.31 L690.17,398.78 L689.95,396.25 L689.76,393.72 L689.6,391.19 L689.46,388.66 L689.35,386.13 L689.26,383.59 L689.19,381.06 L689.16,378.53 L689.14,376 L689.16,373.47 L689.19,370.94 L689.26,368.41 L689.35,365.87 L689.46,363.34 L689.6,360.81 L689.76,358.28 L689.95,355.75 L690.17,353.22 L690.41,350.69 L690.67,348.15 L690.96,345.62 L691.27,343.09 L691.61,340.56 L691.98,338.03 L692.36,335.5 L692.78,332.97 L693.21,330.43 L693.67,327.9 L694.16,325.37 L694.67,322.84 L695.2,320.31 L695.75,317.78 L696.33,315.25 L696.94,312.71 L697.56,310.18 L698.21,307.65 L698.88,305.12 L699.57,302.59 L700.29,300.06 L701.03,297.53 L701.79,294.99 L702.57,292.46 L703.38,289.93 L704.2,287.4 L705.05,284.87 L705.92,282.34 L706.81,279.81 L707.71,277.27 L708.64,274.74 L709.59,272.21 L710.57,269.68 L711.56,267.15 L712.57,264.62 L713.59,262.09 L714.64,259.55 L715.71,257.02 L716.8,254.49 L717.9,251.96 L719.02,249.43 L720.16,246.9 L721.32,244.37 L722.5,241.83 L723.69,239.3 L724.91,236.77 L726.13,234.24 L727.38,231.71 L728.64,229.18 L729.92,226.64 L731.21,224.11 L732.52,221.58 L733.85,219.05 L735.19,216.52 L736.55,213.99 L737.92,211.46 L739.31,208.92 L740.71,206.39 L742.13,203.86 L743.56,201.33 L745,198.8 L746.46,196.27 L747.93,193.74 L749.42,191.2 L750.92,188.67 L752.43,186.14 L753.96,183.61 L755.49,181.08 L757.04,178.55 L758.61,176.02 L760.18,173.48 L761.77,170.95 L763.37,168.42 L764.98,165.89 L766.6,163.36 L768.24,160.83 L769.88,158.3 L771.54,155.76 L773.2,153.23 L774.88,150.7 L776.57,148.17 L778.27,145.64 L779.98,143.11 L781.7,140.58 L783.43,138.04 L785.16,135.51 L786.91,132.98 L788.67,130.45 L790.44,127.92 L792.21,125.39 L794,122.86" stroke="#800000"/>
<path d="M78,629.14 L79.79,626.61 L81.56,624.08 L83.33,621.55 L85.09,619.02 L86.84,616.49 L88.57,613.96 L90.3,611.42 L92.02,608.89 L93.73,606.36 L95.43,603.83 L97.12,601.3 L98.8,598.77 L100.46,596.24 L102.12,593.7 L103.76,591.17 L105.4,588.64 L107.02,586.11 L108.63,583.58 L110.23,581.05 L111.82,578.52 L113.39,575.98 L114.96,573.45 L116.51,570.92 L118.04,568.39 L119.57,565.86 L121.08,563.33 L122.58,560.8 L124.07,558.26 L125.54,555.73 L127,553.2 L128.44,550.67 L129.87,548.14 L131.29,545.61 L132.69,543.08 L134.08,540.54 L135.45,538.01 L136.81,535.48 L138.15,532.95 L139.48,530.42 L140.79,527.89 L142.08,525.36 L143.36,522.82 L144.62,520.29 L145.87,517.76 L147.09,515.23 L148.31,512.7 L149.5,510.17 L150.68,507.63 L151.84,505.1 L152.98,502.57 L154.1,500.04 L155.2,497.51 L156.29,494.98 L157.36,492.45 L158.41,489.91 L159.43,487.38 L160.44,484.85 L161.43,482.32 L162.41,479.79 L163.36,477.26 L164.29,474.73 L165.19,472.19 L166.08,469.66 L166.95,467.13 L167.8,464.6 L168.62,462.07 L169.43,459.54 L170.21,457.01 L170.97,454.47 L171.71,451.94 L172.43,449.41 L173.12,446.88 L173.79,444.35 L174.44,441.82 L175.06,439.29 L175.67,436.75 L176.25,434.22 L176.8,431.69 L177.33,429.16 L177.84,426.63 L178.33,424.1 L178.79,421.57 L179.22,419.03 L179.64,416.5 L180.02,413.97 L180.39,411.44 L180.73,408.91 L181.04,406.38 L181.33,403.85 L181.59,401.31 L181.83,398.78 L182.05,396.25 L182.24,393.72 L182.4,391.19 L182.54,388.66 L182.65,386.13 L182.74,383.59 L182.81,381.06 L182.84,378.53 L182.86,376 L182.84,373.47 L182.81,370.94 L182.74,368.41 L182.65,365.87 L182.54,363.34 L182.4,360.81 L182.24,358.28 L182.05,355.75 L181.83,353.22 L181.59,350.69 L181.33,348.15 L181.04,345.62 L180.73,343.09 L180.39,340.56 L180.02,338.03 L179.64,335.5 L179.22,332.97 L178.79,330.43 L178.33,327.9 L177.84,325.37 L177.33,322.84 L176.8,320.31 L176.25,317.78 L175.67,315.25 L175.06,312.71 L174.44,310.18 L173.79,307.65 L173.12,305.12 L172.43,302.59 L171.71,300.06 L170.97,297.53 L170.21,294.99 L169.43,292.46 L168.62,289.93 L167.8,287.4 L166.95,284.87 L166.08,282.34 L165.19,279.81 L164.29,277.27 L163.36,274.74 L162.41,272.21 L161.43,269.68 L160.44,267.15 L159.43,264.62 L158.41,262.09 L157.36,259.55 L156.29,257.02 L155.2,254.49 L154.1,251.96 L152.98,249.43 L151.84,246.9 L150.68,244.37 L149.5,241.83 L148.31,239.3 L147.09,236.77 L145.87,234.24 L144.62,231.71 L143.36,229.18 L142.08,226.64 L140.79,224.11 L139.48,221.58 L138.15,219.05 L136.81,216.52 L135.45,213.99 L134.08,211.46 L132.69,208.92 L131.29,206.39 L129.87,203.86 L128.44,201.33 L127,198.8 L125.54,196.27 L124.07,193.74 L122.58,191.2 L121.08,188.67 L119.57,186.14 L118.04,183.61 L116.51,181.08 L114.96,178.55 L113.39,176.02 L111.82,173.48 L110.23,170.95 L108.63,168.42 L107.02,165.89 L105.4,163.36 L103.76,160.83 L102.12,158.3 L100.46,155.76 L98.8,153.23 L97.12,150.7 L95.43,148.17 L93.73,145.64 L92.02,143.11 L90.3,140.58 L88.57,138.04 L86.84,135.51 L85.09,132.98 L83.33,130.45 L81.56,127.92 L79.79,125.39 L78,122.86" stroke="#800000"/>
<path d="M182.86,18 L185.39,19.79 L187.92,21.56 L190.45,23.33 L192.98,25.09 L195.51,26.84 L198.04,28.57 L200.58,30.3 L203.11,32.02 L205.64,33.73 L208.17,35.43 L210.7,37.12 L213.23,38.8 L215.76,40.46 L218.3,42.12 L220.83,43.76 L223.36,45.4 L225.89,47.02 L228.42,48.63 L230.95,50.23 L233.48,51.82 L236.02,53.39 L238.55,54.96 L241.08,56.51 L243.61,58.04 L246.14,59.57 L248.67,61.08 L251.2,62.58 L253.74,64.07 L256.27,65.54 L258.8,67 L261.33,68.44 L263.86,69.87 L266.39,71.29 L268.92,72.69 L271.46,74.08 L273.99,75.45 L276.52,76.81 L279.05,78.15 L281.58,79.48 L284.11,80.79 L286.64,82.08 L289.18,83.36 L291.71,84.62 L294.24,85.87 L296.77,87.09 L299.3,88.31 L301.83,89.5 L304.37,90.68 L306.9,91.84 L309.43,92.98 L311.96,94.1 L314.49,95.2 L317.02,96.29 L319.55,97.36 L322.09,98.41 L324.62,99.43 L327.15,100.44 L329.68,101.43 L332.21,102.41 L334.74,103.36 L337.27,104.29 L339.81,105.19 L342.34,106.08 L344.87,106.95 L347.4,107.8 L349.93,108.62 L352.46,109.43 L354.99,110.21 L357.53,110.97 L360.06,111.71 L362.59,112.43 L365.12,113.12 L367.65,113.79 L370.18,114.44 L372.71,115.06 L375.25,115.67 L377.78,116.25 L380.31,116.8 L382.84,117.33 L385.37,117.84 L387.9,118.33 L390.43,118.79 L392.97,119.22 L395.5,119.64 L398.03,120.02 L400.56,120.39 L403.09,120.73 L405.62,121.04 L408.15,121.33 L410.69,121.59 L413.22,121.83 L415.75,122.05 L418.28,122.24 L420.81,122.4 L423.34,122.54 L425.87,122.65 L428.41,122.74 L430.94,122.81 L433.47,122.84 L436,122.86 L438.53,122.84 L441.06,122.81 L443.59,122.74 L446.13,122.65 L448.66,122.54 L451.19,122.4 L453.72,122.24 L456.25,122.05 L458.78,121.83 L461.31,121.59 L463.85,121.33 L466.38,121.04 L468.91,120.73 L471.44,120.39 L473.97,120.02 L476.5,119.64 L479.03,119.22 L481.57,118.79 L484.1,118.33 L486.63,117.84 L489.16,117.33 L491.69,116.8 L494.22,116.25 L496.75,115.67 L499.29,115.06 L501.82,114.44 L504.35,113.79 L506.88,113.12 L509.41,112.43 L511.94,111.71 L514.47,110.97 L517.01,110.21 L519.54,109.43 L522.07,108.62 L524.6,107.8 L527.13,106.95 L529.66,106.08 L532.19,105.19 L534.73,104.29 L537.26,103.36 L539.79,102.41 L542.32,101.43 L544.85,100.44 L547.38,99.43 L549.91,98.41 L552.45,97.36 L554.98,96.29 L557.51,95.2 L560.04,94.1 L562.57,92.98 L565.1,91.84 L567.63,90.68 L570.17,89.5 L572.7,88.31 L575.23,87.09 L577.76,85.87 L580.29,84.62 L582.82,83.36 L585.36,82.08 L587.89,80.79 L590.42,79.48 L592.95,78.15 L595.48,76.81 L598.01,75.45 L600.54,74.08 L603.08,72.69 L605.61,71.29 L608.14,69.87 L610.67,68.44 L613.2,67 L615.73,65.54 L618.26,64.07 L620.8,62.58 L623.33,61.08 L625.86,59.57 L628.39,58.04 L630.92,56.51 L633.45,54.96 L635.98,53.39 L638.52,51.82 L641.05,50.23 L643.58,48.63 L646.11,47.02 L648.64,45.4 L651.17,43.76 L653.7,42.12 L656.24,40.46 L658.77,38.8 L661.3,37.12 L663.83,35.43 L666.36,33.73 L668.89,32.02 L671.42,30.3 L673.96,28.57 L676.49,26.84 L679.02,25.09 L681.55,23.33 L684.08,21.56 L686.61,19.79 L689.14,18" stroke="#003c5a"/>
<path d="M182.86,734 L185.39,732.21 L187.92,730.44 L190.45,728.67 L192.98,726.91 L195.51,725.16 L198.04,723.43 L200.58,721.7 L203.11,719.98 L205.64,718.27 L208.17,716.57 L210.7,714.88 L213.23,713.2 L215.76,711.54 L218.3,709.88 L220.83,708.24 L223.36,706.6 L225.89,704.98 L228.42,703.37 L230.95,701.77 L233.48,700.18 L236.02,698.61 L238.55,697.04 L241.08,695.49 L243.61,693.96 L246.14,692.43 L248.67,690.92 L251.2,689.42 L253.74,687.93 L256.27,686.46 L258.8,685 L261.33,683.56 L263.86,682.13 L266.39,680.71 L268.92,679.31 L271.46,677.92 L273.99,676.55 L276.52,675.19 L279.05,673.85 L281.58,672.52 L284.11,671.21 L286.64,669.92 L289.18,668.64 L291.71,667.38 L294.24,666.13 L296.77,664.91 L299.3,663.69 L301.83,662.5 L304.37,661.32 L306.9,660.16 L309.43,659.02 L311.96,657.9 L314.49,656.8 L317.02,655.71 L319.55,654.64 L322.09,653.59 L324.62,652.57 L327.15,651.56 L329.68,650.57 L332.21,649.59 L334.74,648.64 L337.27,647.71 L339.81,646.81 L342.34,645.92 L344.87,645.05 L347.4,644.2 L349.93,643.38 L352.46,642.57 L354.99,641.79 L357.53,641.03 L360.06,640.29 L362.59,639.57 L365.12,638.88 L367.65,638.21 L370.18,637.56 L372.71,636.94 L375.25,636.33 L377.78,635.75 L380.31,635.2 L382.84,634.67 L385.37,634.16 L387.9,633.67 L390.43,633.21 L392.97,632.78 L395.5,632.36 L398.03,631.98 L400.56,631.61 L403.09,631.27 L405.62,630.96 L408.15,630.67 L410.69,630.41 L413.22,630.17 L415.75,629.95 L418.28,629.76 L420.81,629.6 L423.34,629.46 L425.87,629.35 L428.41,629.26 L430.94,629.19 L433.47,629.16 L436,629.14 L438.53,629.16 L441.06,629.19 L443.59,629.26 L446.13,629.35 L448.66,629.46 L451.19,629.6 L453.72,629.76 L456.25,629.95 L458.78,630.17 L461.31,630.41 L463.85,630.67 L466.38,630.96 L468.91,631.27 L471.44,631.61 L473.97,631.98 L476.5,632.36 L479.03,632.78 L481.57,633.21 L484.1,633.67 L486.63,634.16 L489.16,634.67 L491.69,635.2 L494.22,635.75 L496.75,636.33 L499.29,636.94 L501.82,637.56 L504.35,638.21 L506.88,638.88 L509.41,639.57 L511.94,640.29 L514.47,641.03 L517.01,641.79 L519.54,642.57 L522.07,643.38 L524.6,644.2 L527.13,645.05 L529.66,645.92 L532.19,646.81 L534.73,647.71 L537.26,648.64 L539.79,649.59 L542.32,650.57 L544.85,651.56 L547.38,652.57 L549.91,653.59 L552.45,654.64 L554.98,655.71 L557.51,656.8 L560.04,657.9 L562.57,659.02 L565.1,660.16 L567.63,661.32 L570.17,662.5 L572.7,663.69 L575.23,664.91 L577.76,666.13 L580.29,667.38 L582.82,668.64 L585.36,669.92 L587.89,671.21 L590.42,672.52 L592.95,673.85 L595.48,675.19 L598.01,676.55 L600.54,677.92 L603.08,679.31 L605.61,680.71 L608.14,682.13 L610.67,683.56 L613.2,685 L615.73,686.46 L618.26,687.93 L620.8,689.42 L623.33,690.92 L625.86,692.43 L628.39,693.96 L630.92,695.49 L633.45,697.04 L635.98,698.61 L638.52,700.18 L641.05,701.77 L643.58,703.37 L646.11,704.98 L648.64,706.6 L651.17,708.24 L653.7,709.88 L656.24,711.54 L658.77,713.2 L661.3,714.88 L663.83,716.57 L666.36,718.27 L668.89,719.98 L671.42,721.7 L673.96,723.43 L676.49,725.16 L679.02,726.91 L681.55,728.67 L684.08,730.44 L686.61,732.21 L689.14,734" stroke="#003c5a"/>
<path d="M83.65,23.65L92.65,32.65M95.95,35.95L111.75,51.75M120.05,60.05L124.05,64.05M131.75,71.75L135.75,75.75M137.85,77.85L159.15,99.15M163.75,103.75L165.95,105.95M173.85,113.85L184.05,124.05M191.65,131.65L195.75,135.75M203.35,143.35L213.55,153.55M220.65,160.65L220.95,160.95M227.45,167.45L237.55,177.55M245.85,185.85L249.95,189.95M257.55,197.55L273.95,213.95M277.95,217.95L278.85,218.85M281.65,221.65L304.15,244.15M306.85,246.85L310.25,250.25M317.95,257.95L328.15,268.15M335.75,275.75L345.95,285.95M349.95,289.95L350.25,290.25M353.15,293.15L362.75,302.75M370.95,310.95L373.85,313.85M390.35,330.35L399.65,339.65M407.05,347.05L409.95,349.95M428.85,368.85L435.35,375.35M443.65,383.65L449.55,389.55M455.95,395.95L471.75,411.75M485.55,425.55L494.55,434.55M499.05,439.05L501.95,441.95M507.25,447.25L507.55,447.55M509.95,449.95L525.75,465.75M534.05,474.05L543.55,483.55M550.65,490.65L555.95,495.95M564.15,504.15L564.55,504.55M569.75,509.75L579.95,519.95M587.55,527.55L597.85,537.85M605.55,545.55L615.75,555.75M621.55,561.55L621.85,561.85M624.05,564.05L633.55,573.55M636.35,576.35L645.95,585.95M650.45,590.45L652.05,592.05M659.75,599.75L669.95,609.95M677.55,617.55L681.65,621.65M689.95,629.95L708.15,648.15M714.05,654.05L723.55,663.55M731.85,671.85L742.05,682.05M750.15,690.15L759.75,699.75M765.15,705.15L765.25,705.25M767.65,707.65L779.85,719.85M785.85,725.85L793.25,733.25M78.75,733.25L85.85,726.15M92.25,719.75L92.65,719.35M95.95,716.05L106.85,705.15M111.35,700.65L124.05,687.95M131.75,680.25L140.05,671.95M147.75,664.25L159.15,652.85M163.15,648.85L164.05,647.95M166.75,645.25L175.95,636.05M178.05,633.95L178.45,633.55M186.05,625.95L193.85,618.15M202.05,609.95L211.65,600.35M219.95,592.05L231.95,580.05M235.35,576.65L235.65,576.35M237.75,574.25L249.25,562.75M257.55,554.45L265.95,546.05M274.25,537.75L283.85,528.15M292.05,519.95L301.65,510.35M306.85,505.15L307.25,504.75M309.95,502.05L321.35,490.65M328.45,483.55L337.95,474.05M346.25,465.75L355.95,456.05M364.25,447.75L373.85,438.15M383.25,428.75L384.75,427.25M399.95,412.05L408.25,403.75M427.55,384.45L428.05,383.95M436.75,375.25L445.85,366.15M449.85,362.15L450.15,361.85M453.55,358.45L464.35,347.65M472.05,339.95L481.55,330.45M489.85,322.15L500.05,311.95M507.15,304.85L507.45,304.55M510.15,301.85L520.35,291.65M523.55,288.45L523.65,288.35M525.65,286.35L535.85,276.15M544.15,267.85L555.55,256.45M563.85,248.15L572.25,239.75M579.25,232.75L590.05,221.95M593.45,218.55L593.75,218.25M597.75,214.25L607.95,204.05M616.15,195.85L625.85,186.15M634.15,177.85L643.75,168.25M650.75,161.25L662.25,149.75M664.95,147.05L665.25,146.75M669.85,142.15L680.05,131.95M687.75,124.25L697.95,114.05M705.65,106.35L715.85,96.15M722.95,89.05L733.75,78.25M737.05,74.95L737.45,74.55M742.05,69.95L752.25,59.75M759.85,52.15L770.05,41.95M777.75,34.25L787.95,24.05" stroke="#000" stroke-linecap="round"/>
</g>
<g font-family="Liberation Serif, serif" font-size="22" fill="#000"><text x="77.5" y="763.8" text-anchor="middle">-1</text><text x="63.3" y="738.7" text-anchor="end">-1</text><text x="256.5" y="763.8" text-anchor="middle">-<tspan dx="0.7">.</tspan><tspan dx="-0.7">5</tspan></text><text x="63.3" y="559.7" text-anchor="end">-<tspan dx="0.7">.</tspan><tspan dx="-0.7">5</tspan></text><text x="435.5" y="763.8" text-anchor="middle">0</text><text x="63.3" y="380.7" text-anchor="end">0</text><text x="614.5" y="763.8" text-anchor="middle"><tspan dx="1.6">.</tspan><tspan dx="-1.6">5</tspan></text><text x="63.3" y="201.7" text-anchor="end"><tspan dx="1.6">.</tspan><tspan dx="-1.6">5</tspan></text><text x="793.5" y="763.8" text-anchor="middle">1</text><text x="63.3" y="22.7" text-anchor="end">1</text><text x="435.7" y="797" text-anchor="middle">x axis</text><text transform="translate(23.3,375.8) rotate(-90)" x="0" y="0" text-anchor="middle">y axis</text></g>
<g><rect x="297" y="301.8" width="278" height="148.2" rx="1" fill="#fff" fill-opacity="0.667" stroke="#9a9a9a" stroke-width="1.5"/><text x="303" y="330.9" font-family="Liberation Serif, serif" font-size="22">z</text><path d="M329.9,320.65 L325.02,320.65 A4.38,4.38 0 0 0 325.02,329.4 L329.9,329.4 M320.65,325.5 L329.9,325.5" fill="none" stroke="#000" stroke-width="1.15"/><text x="336.2" y="330.9" font-family="Liberation Serif, serif" font-size="22">[&#36;0.50,&#36;1.00]</text><rect x="502" y="313" width="66" height="16" fill="#ffcdcd"/><text x="303" y="365.9" font-family="Liberation Serif, serif" font-size="22">z</text><path d="M329.9,355.65 L325.02,355.65 A4.38,4.38 0 0 0 325.02,364.4 L329.9,364.4 M320.65,360.5 L329.9,360.5" fill="none" stroke="#000" stroke-width="1.15"/><text x="336.2" y="365.9" font-family="Liberation Serif, serif" font-size="22">[&#36;0,&#36;0.50]</text><rect x="502" y="348" width="66" height="16" fill="#ffeeee"/><text x="303" y="400.9" font-family="Liberation Serif, serif" font-size="22">z</text><path d="M329.9,390.65 L325.02,390.65 A4.38,4.38 0 0 0 325.02,399.4 L329.9,399.4 M320.65,395.5 L329.9,395.5" fill="none" stroke="#000" stroke-width="1.15"/><text x="336.2" y="400.9" font-family="Liberation Serif, serif" font-size="22">[(&#36;0.50),&#36;0]</text><rect x="502" y="383" width="66" height="16" fill="#eefbff"/><text x="303" y="434.9" font-family="Liberation Serif, serif" font-size="22">z</text><path d="M329.9,424.65 L325.02,424.65 A4.38,4.38 0 0 0 325.02,433.4 L329.9,433.4 M320.65,429.5 L329.9,429.5" fill="none" stroke="#000" stroke-width="1.15"/><text x="336.2" y="434.9" font-family="Liberation Serif, serif" font-size="22">[(&#36;1.00),(&#36;0.50)]</text><rect x="502" y="418" width="66" height="16" fill="#ccf6ff"/><line x1="503" y1="330.5" x2="569" y2="330.5" stroke="#000" stroke-width="2" stroke-linecap="round"/><line x1="503" y1="349" x2="569" y2="349" stroke="#000" stroke-width="2" stroke-linecap="round"/><line x1="503" y1="365.4" x2="569" y2="365.4" stroke="#00364a" stroke-width="2" stroke-linecap="round" stroke-dasharray="10 8"/><line x1="503" y1="383.6" x2="569" y2="383.6" stroke="#00364a" stroke-width="2" stroke-linecap="round" stroke-dasharray="10 8"/><line x1="503" y1="400.4" x2="569" y2="400.4" stroke="#004968" stroke-width="2" stroke-linecap="round"/><line x1="503" y1="418.9" x2="569" y2="418.9" stroke="#004968" stroke-width="2" stroke-linecap="round"/></g>
</g>
</svg>
</body></html>
